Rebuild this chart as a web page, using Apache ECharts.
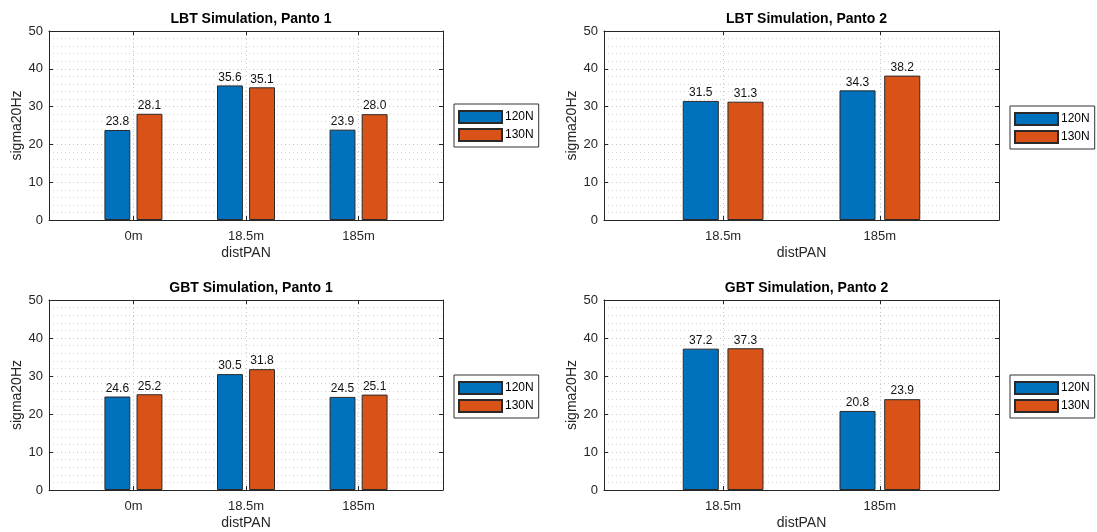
<!DOCTYPE html>
<html>
<head>
<meta charset="utf-8">
<title>sigma20Hz</title>
<script src="https://cdn.jsdelivr.net/npm/echarts@6/dist/echarts.min.js"></script>
<style>
  html, body { margin: 0; padding: 0; background: #fff; }
  #chart { width: 1097px; height: 532px; }
</style>
</head>
<body>
<div id="chart"></div>
<script>
// categories
var catsPanto1 = ['0m', '18.5m', '185m']
var catsPanto2 = ['18.5m', '185m']
var seriesNames = ['120N', '130N']

// values
var lbt1_120 = [23.8, 35.6, 23.9]
var lbt1_130 = [28.1, 35.1, 28.0]
var lbt2_120 = [31.5, 34.3]
var lbt2_130 = [31.3, 38.2]
var gbt1_120 = [24.6, 30.5, 24.5]
var gbt1_130 = [25.2, 31.8, 25.1]
var gbt2_120 = [37.2, 20.8]
var gbt2_130 = [37.3, 23.9]

var colors = ['#0072BD', '#D95319']
var axisColor = '#262626'
var font = "'Liberation Sans', Arial, sans-serif"

var panels = [
  { title: 'LBT Simulation, Panto 1', cats: catsPanto1, v: [lbt1_120, lbt1_130],
    grid: { left: 49, top: 31, width: 394, height: 189 }, xMin: 0.25, xMax: 3.75, legend: { left: 454, top: 104 } },
  { title: 'LBT Simulation, Panto 2', cats: catsPanto2, v: [lbt2_120, lbt2_130],
    grid: { left: 604, top: 31, width: 395, height: 189 }, xMin: 0.24, xMax: 2.76, legend: { left: 1010, top: 106 } },
  { title: 'GBT Simulation, Panto 1', cats: catsPanto1, v: [gbt1_120, gbt1_130],
    grid: { left: 49, top: 300, width: 394, height: 190 }, xMin: 0.25, xMax: 3.75, legend: { left: 454, top: 375 } },
  { title: 'GBT Simulation, Panto 2', cats: catsPanto2, v: [gbt2_120, gbt2_130],
    grid: { left: 604, top: 300, width: 395, height: 190 }, xMin: 0.24, xMax: 2.76, legend: { left: 1010, top: 375 } }
]

var gridLine = { show: true, lineStyle: { color: '#c8c8c8', type: [1, 3], width: 1 } }

var option = {
  animation: false,
  textStyle: { fontFamily: font },
  title: [],
  legend: [],
  grid: [],
  xAxis: [],
  yAxis: [],
  series: []
}

panels.forEach(function (p, i) {
  var positions = p.cats.map(function (c, k) { return k + 1 })

  option.grid.push(p.grid)

  option.title.push({
    text: p.title,
    left: p.grid.left + p.grid.width / 2,
    textAlign: 'center',
    top: p.grid.top - 24,
    textStyle: { fontSize: 14, fontWeight: 'bold', color: '#000', fontFamily: font }
  })

  option.legend.push({
    data: seriesNames,
    orient: 'vertical',
    left: p.legend.left,
    top: p.legend.top,
    itemWidth: 43,
    itemHeight: 12,
    itemGap: 4,
    padding: [6, 5, 5, 4],
    borderColor: '#333',
    borderWidth: 1,
    backgroundColor: '#fff',
    icon: 'rect',
    selectedMode: false,
    textStyle: { fontSize: 12, color: '#000', padding: [0, 0, 0, -2], fontFamily: font }
  })

  // bottom x axis (labels) and top x axis (box + ticks)
  option.xAxis.push({
    type: 'value',
    gridIndex: i,
    position: 'bottom',
    min: p.xMin,
    max: p.xMax,
    name: 'distPAN',
    nameLocation: 'middle',
    nameGap: 26,
    nameTextStyle: { fontSize: 14, color: axisColor, fontFamily: font },
    axisLine: { show: true, onZero: false, lineStyle: { color: axisColor, width: 1 } },
    axisTick: { show: true, inside: true, length: 4, customValues: positions, lineStyle: { color: axisColor } },
    axisLabel: {
      show: true,
      customValues: positions,
      margin: 10,
      fontSize: 13,
      color: axisColor,
      formatter: function (v) { return p.cats[Math.round(v) - 1] }
    },
    splitLine: gridLine
  })
  option.xAxis.push({
    type: 'value',
    gridIndex: i,
    position: 'top',
    min: p.xMin,
    max: p.xMax,
    axisLine: { show: true, onZero: false, lineStyle: { color: axisColor, width: 1 } },
    axisTick: { show: true, inside: true, length: 4, customValues: positions, lineStyle: { color: axisColor } },
    axisLabel: { show: false },
    splitLine: { show: false }
  })

  // left y axis and right y axis
  option.yAxis.push({
    type: 'value',
    gridIndex: i,
    position: 'left',
    min: 0,
    max: 50,
    interval: 10,
    name: 'sigma20Hz',
    nameLocation: 'middle',
    nameGap: 24,
    nameTextStyle: { fontSize: 14, color: axisColor, fontFamily: font },
    axisLine: { show: true, onZero: false, lineStyle: { color: axisColor, width: 1 } },
    axisTick: { show: true, inside: true, length: 4, lineStyle: { color: axisColor } },
    axisLabel: { margin: 6, fontSize: 13, color: axisColor },
    splitLine: gridLine,
    minorTick: { show: false, splitNumber: 5 },
    minorSplitLine: { show: true, lineStyle: { color: '#d4d4d4', type: [1, 3], width: 1 } }
  })
  option.yAxis.push({
    type: 'value',
    gridIndex: i,
    position: 'right',
    min: 0,
    max: 50,
    interval: 10,
    axisLine: { show: true, onZero: false, lineStyle: { color: axisColor, width: 1 } },
    axisTick: { show: true, inside: true, length: 4, lineStyle: { color: axisColor } },
    axisLabel: { show: false },
    splitLine: { show: false }
  })

  seriesNames.forEach(function (name, s) {
    option.series.push({
      name: name,
      type: 'bar',
      xAxisIndex: i * 2,
      yAxisIndex: i * 2,
      barWidth: '23%',
      barGap: '24%',
      data: p.v[s].map(function (val, k) { return [positions[k], val] }),
      itemStyle: { color: colors[s], borderColor: '#2a2a2a', borderWidth: 1 },
      label: {
        show: true,
        position: 'top',
        distance: 2,
        fontSize: 12,
        color: '#111',
        fontFamily: font,
        formatter: function (d) { return d.value[1].toFixed(1) }
      }
    })
  })
})

var chart = echarts.init(document.getElementById('chart'))
chart.setOption(option)
</script>
</body>
</html>
